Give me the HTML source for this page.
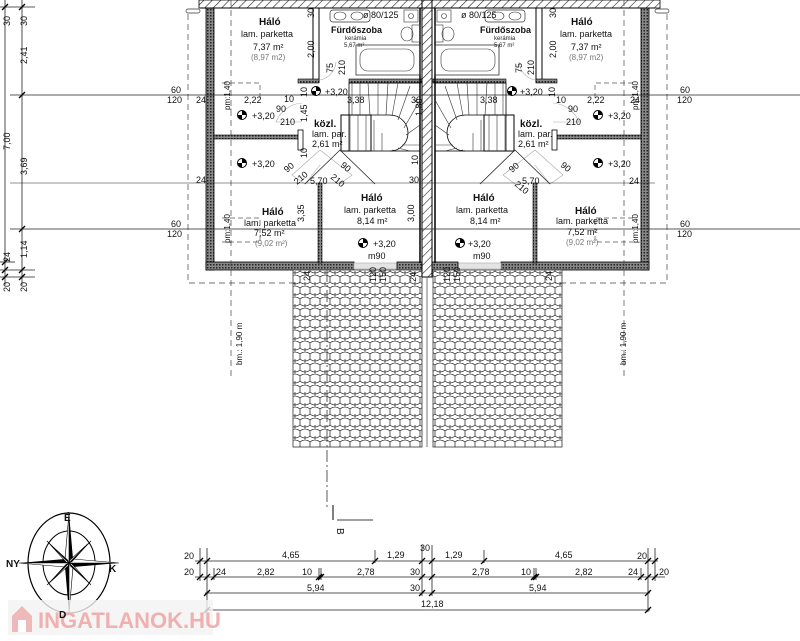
<!DOCTYPE html>
<html><head><meta charset="utf-8"><style>
html,body{margin:0;padding:0;background:#fff;}
svg{display:block;font-family:"Liberation Sans",sans-serif;}
.t{font-size:9px;fill:#111}
.b{font-size:10px;font-weight:bold;fill:#111}
.g{font-size:8px;fill:#777}
.s{font-size:6px;fill:#222}
</style></head><body>
<svg width="800" height="641" viewBox="0 0 800 641" xmlns="http://www.w3.org/2000/svg">
<defs>
<pattern id="hatch" width="6" height="6" patternUnits="userSpaceOnUse" patternTransform="rotate(45)">
<rect width="6" height="6" fill="#fff"/><line x1="0" y1="0" x2="0" y2="6" stroke="#222" stroke-width="1.2"/></pattern>
<pattern id="wall" width="3" height="3" patternUnits="userSpaceOnUse">
<rect width="3" height="3" fill="#888"/><rect width="1.5" height="1.5" fill="#222"/></pattern>
<pattern id="pave" width="10" height="11" patternUnits="userSpaceOnUse">
<rect width="10" height="11" fill="#fff"/>
<path d="M0,2 Q5,-2 10,2 M0,2 V7 M10,2 V7 M0,7 Q5,11 10,7 M5,7 V12" fill="none" stroke="#333" stroke-width="0.8"/>
</pattern>
<g id="lvl"><circle r="4.5" fill="#fff" stroke="#000" stroke-width="1"/><path d="M0,0 L0,-4.5 A4.5,4.5 0 0 1 4.5,0 Z M0,0 L0,4.5 A4.5,4.5 0 0 1 -4.5,0 Z" fill="#000"/></g>
<g id="unit">
<!-- outer walls -->
<rect x="206" y="8" width="8" height="262" fill="url(#wall)" stroke="#000" stroke-width="0.8"/>
<rect x="206" y="262" width="148" height="8" fill="url(#wall)" stroke="#000" stroke-width="0.8"/>
<rect x="354" y="263" width="43" height="6" fill="#e4e4e4" stroke="#aaa" stroke-width="0.6"/>
<rect x="397" y="262" width="26" height="8" fill="url(#wall)" stroke="#000" stroke-width="0.8"/>
<!-- interior walls -->
<rect x="313" y="8" width="6" height="74" fill="#fff" stroke="#000" stroke-width="1"/>
<rect x="298" y="79" width="21" height="4" fill="url(#wall)" stroke="#000" stroke-width="0.6"/>
<rect x="349" y="79" width="73" height="4" fill="url(#wall)" stroke="#000" stroke-width="0.6"/>
<rect x="214" y="135" width="88" height="4" fill="url(#wall)" stroke="#000" stroke-width="0.6"/>
<rect x="298" y="130" width="5" height="20" fill="#fff" stroke="#000" stroke-width="0.8"/>
<rect x="318" y="183" width="4" height="80" fill="url(#wall)" stroke="#000" stroke-width="0.6"/>
<line x1="420" y1="8" x2="420" y2="263" stroke="#000" stroke-width="1.5"/>
<!-- stair -->
<rect x="349" y="83" width="71" height="68" fill="none" stroke="#000" stroke-width="0.8"/>
<rect x="341" y="115" width="30" height="36" fill="none" stroke="#000" stroke-width="1"/>
<path d="M371,115 H390 A18,18 0 0 1 390,151" fill="none" stroke="#000" stroke-width="0.8"/>
<g stroke="#333" stroke-width="0.6">
<line x1="352" y1="83" x2="352" y2="115"/><line x1="360" y1="83" x2="360" y2="115"/><line x1="368" y1="83" x2="370" y2="115"/><line x1="378" y1="83" x2="378" y2="115"/><line x1="388" y1="83" x2="386" y2="115"/><line x1="398" y1="83" x2="392" y2="116"/><line x1="410" y1="86" x2="398" y2="120"/><line x1="420" y1="100" x2="404" y2="128"/><line x1="420" y1="125" x2="406" y2="135"/><line x1="420" y1="145" x2="402" y2="145"/><line x1="410" y1="151" x2="398" y2="148"/><line x1="398" y1="151" x2="392" y2="150"/>
<line x1="350" y1="115" x2="350" y2="151"/><line x1="358" y1="115" x2="358" y2="151"/><line x1="366" y1="115" x2="366" y2="151"/><line x1="374" y1="120" x2="374" y2="151"/><line x1="382" y1="133" x2="382" y2="151"/>
</g>
<!-- bath -->
<rect x="330" y="10" width="40" height="12" rx="3" fill="none" stroke="#333" stroke-width="0.7"/>
<ellipse cx="340" cy="16" rx="6" ry="4" fill="none" stroke="#333" stroke-width="0.6"/>
<ellipse cx="357" cy="16" rx="6" ry="4" fill="none" stroke="#333" stroke-width="0.6"/>
<rect x="356" y="45" width="64" height="30" fill="none" stroke="#333" stroke-width="0.8"/>
<rect x="360" y="49" width="54" height="22" rx="8" fill="none" stroke="#333" stroke-width="0.6"/>
<rect x="412" y="25" width="8" height="17" fill="none" stroke="#333" stroke-width="0.6"/>
<ellipse cx="407" cy="34" rx="6" ry="7" fill="none" stroke="#333" stroke-width="0.6"/>
<rect x="404" y="10" width="14" height="12" fill="none" stroke="#333" stroke-width="0.6"/>
<circle cx="411" cy="16" r="2.5" fill="none" stroke="#333" stroke-width="0.6"/>
<!-- door swings -->
<g fill="none" stroke="#aaa" stroke-width="0.6">
<path d="M302,103 A30,30 0 0 0 276,122 L302,122"/><path d="M336,62 A20,20 0 0 1 320,80"/>
<path d="M320,150 L292,175 L305,184 L320,165"/><path d="M320,150 L352,175 L340,184"/>
</g>
<path d="M305,184 L340,150 L375,184" fill="none" stroke="#222" stroke-width="0.8"/>
<!-- pm dashed boxes -->
<g fill="none" stroke="#555" stroke-width="0.7" stroke-dasharray="5,3">
<path d="M222,83 H260 V100"/><path d="M222,218 H260 V242 H222"/>
</g>
<!-- paving -->
<rect x="293" y="270" width="129" height="177" fill="url(#pave)" stroke="#333" stroke-width="0.8"/>
<!-- pipe -->
<rect x="186" y="9" width="14" height="4" rx="2" fill="#fff" stroke="#333" stroke-width="0.7"/>
<!-- dashed outline -->
<g fill="none" stroke="#444" stroke-width="0.7" stroke-dasharray="6,4">
<path d="M188,14 V283 H300"/>
<line x1="231" y1="0" x2="231" y2="380"/>
</g>
</g>
</defs>

<!-- top hatched strip -->
<rect x="199" y="0" width="461" height="8" fill="url(#hatch)" stroke="#000" stroke-width="0.8"/>
<use href="#unit"/>
<use href="#unit" transform="translate(855,0) scale(-1,1)"/>
<!-- party wall -->
<rect x="422" y="0" width="10" height="277" fill="url(#hatch)" stroke="#000" stroke-width="1"/>
<line x1="427" y1="277" x2="427" y2="447" stroke="#555" stroke-width="0.8"/>
<line x1="200" y1="8" x2="655" y2="8" stroke="#000" stroke-width="1"/>

<!-- long horizontal dimension lines -->
<g stroke="#222" stroke-width="0.8">
<line x1="10" y1="95" x2="800" y2="95"/><line x1="10" y1="229" x2="800" y2="229"/>
<line x1="10" y1="183" x2="655" y2="183" stroke-width="0.6"/>
<line x1="5" y1="0" x2="5" y2="285"/><line x1="22" y1="0" x2="22" y2="285"/>
<line x1="0" y1="7" x2="35" y2="7"/><line x1="0" y1="270" x2="35" y2="270"/><line x1="0" y1="277" x2="35" y2="277"/><line x1="0" y1="262" x2="15" y2="262"/>
</g>
<g stroke="#000" stroke-width="1.3">
<line x1="2" y1="10" x2="8" y2="4"/><line x1="19" y1="10" x2="25" y2="4"/><line x1="19" y1="98" x2="25" y2="92"/><line x1="19" y1="232" x2="25" y2="226"/>
<line x1="2" y1="265" x2="8" y2="259"/><line x1="2" y1="273" x2="8" y2="267"/><line x1="19" y1="273" x2="25" y2="267"/><line x1="2" y1="280" x2="8" y2="274"/><line x1="19" y1="280" x2="25" y2="274"/>
</g>
<g class="t">
<text transform="translate(10,26) rotate(-90)">30</text><text transform="translate(27,26) rotate(-90)">30</text>
<text transform="translate(27,64) rotate(-90)">2,41</text><text transform="translate(10,150) rotate(-90)">7,00</text>
<text transform="translate(27,175) rotate(-90)">3,69</text><text transform="translate(27,258) rotate(-90)">1,14</text>
<text transform="translate(10,262) rotate(-90)">24</text><text transform="translate(10,292) rotate(-90)">20</text><text transform="translate(27,292) rotate(-90)">20</text>
<text x="171" y="93">60</text><text x="167" y="103">120</text><text x="171" y="227">60</text><text x="167" y="237">120</text>
<text x="680" y="93">60</text><text x="677" y="103">120</text><text x="680" y="227">60</text><text x="677" y="237">120</text>
</g>

<!-- level markers -->
<use href="#lvl" x="242" y="115"/><use href="#lvl" x="242" y="163"/><use href="#lvl" x="316" y="91"/><use href="#lvl" x="363" y="243"/>
<use href="#lvl" x="598" y="115"/><use href="#lvl" x="598" y="163"/><use href="#lvl" x="512" y="91"/><use href="#lvl" x="460" y="243"/>

<!-- left unit texts -->
<text class="b" x="259" y="25">Háló</text>
<text class="t" x="241" y="37">lam. parketta</text>
<text class="t" x="253" y="50">7,37 m²</text>
<text class="g" x="251" y="60">(8,97 m2)</text>
<text class="b" x="331" y="33" style="font-size:9px">Fürdőszoba</text>
<text class="s" x="345" y="40">kerámia</text>
<text class="s" x="344" y="47">5,67 m²</text>
<text class="t" x="363" y="18">ø 80/125</text>
<text class="b" x="314" y="127">közl.</text>
<text class="t" x="312" y="137">lam. par.</text>
<text class="t" x="312" y="147">2,61 m²</text>
<text class="b" x="262" y="215">Háló</text>
<text class="t" x="244" y="226">lam. parketta</text>
<text class="t" x="254" y="236">7,52 m²</text>
<text class="g" x="255" y="246">(9,02 m²)</text>
<text class="b" x="361" y="201">Háló</text>
<text class="t" x="344" y="213">lam. parketta</text>
<text class="t" x="357" y="224">8,14 m²</text>
<text class="t" x="373" y="247">+3,20</text>
<text class="t" x="368" y="259">m90</text>
<g class="t">
<text x="252" y="119">+3,20</text><text x="252" y="167">+3,20</text><text x="325" y="95">+3,20</text>
<text x="196" y="103">24</text><text x="244" y="103">2,22</text><text x="284" y="102">10</text><text x="347" y="103">3,38</text><text x="411" y="103">30</text>
<text x="276" y="112">90</text><text x="280" y="125">210</text>
<text x="196" y="183">24</text><text x="409" y="183">30</text>
<text transform="translate(314,18) rotate(-90)">30</text><text transform="translate(314,58) rotate(-90)">2,00</text>
<text transform="translate(333,73) rotate(-90)">75</text><text transform="translate(345,75) rotate(-90)">210</text>
<text transform="translate(307,97) rotate(-90)">10</text><text transform="translate(307,122) rotate(-90)">1,45</text><text transform="translate(307,158) rotate(-90)">10</text>
<text transform="translate(422,116) rotate(-90)">1,80</text><text transform="translate(418,165) rotate(-90)">10</text>
<text transform="translate(304,222) rotate(-90)">3,35</text><text transform="translate(414,222) rotate(-90)">3,00</text>
<text transform="translate(287,173) rotate(-40)">90</text><text transform="translate(340,166) rotate(40)">90</text>
<text transform="translate(297,185) rotate(-40)">210</text><text transform="translate(330,178) rotate(40)">210</text>
<text x="310" y="184">5,70</text>
<text transform="translate(230,243) rotate(-90)" style="font-size:8px">pm:1,40</text>
<text transform="translate(230,110) rotate(-90)" style="font-size:8px">pm:1,40</text>
<text transform="translate(310,281) rotate(-90)">24</text><text transform="translate(376,282) rotate(-90)">120</text><text transform="translate(386,282) rotate(-90)">150</text><text transform="translate(416,282) rotate(-90)">24</text>
<text transform="translate(242,365) rotate(-90)" style="font-size:8px">bm.: 1,90 m</text>
</g>

<!-- right unit texts -->
<text class="b" x="571" y="25">Háló</text>
<text class="t" x="560" y="37">lam. parketta</text>
<text class="t" x="571" y="50">7,37 m²</text>
<text class="g" x="569" y="60">(8,97 m2)</text>
<text class="b" x="480" y="33" style="font-size:9px">Fürdőszoba</text>
<text class="s" x="494" y="40">kerámia</text>
<text class="s" x="494" y="47">5,67 m²</text>
<text class="t" x="461" y="18">ø 80/125</text>
<text class="b" x="520" y="127">közl.</text>
<text class="t" x="518" y="137">lam. par.</text>
<text class="t" x="518" y="147">2,61 m²</text>
<text class="b" x="473" y="201">Háló</text>
<text class="t" x="456" y="213">lam. parketta</text>
<text class="t" x="470" y="224">8,14 m²</text>
<text class="t" x="468" y="247">+3,20</text>
<text class="t" x="473" y="259">m90</text>
<text class="b" x="575" y="214">Háló</text>
<text class="t" x="556" y="224">lam. parketta</text>
<text class="t" x="567" y="235">7,52 m²</text>
<text class="g" x="566" y="245">(9,02 m²)</text>
<g class="t">
<text x="608" y="119">+3,20</text><text x="608" y="167">+3,20</text><text x="520" y="95">+3,20</text>
<text x="480" y="103">3,38</text><text x="556" y="103">10</text><text x="587" y="103">2,22</text><text x="630" y="103">24</text>
<text x="568" y="112">90</text><text x="566" y="125">210</text>
<text x="629" y="184">24</text>
<text transform="translate(556,18) rotate(-90)">30</text><text transform="translate(556,58) rotate(-90)">2,00</text>
<text transform="translate(522,73) rotate(-90)">75</text><text transform="translate(534,75) rotate(-90)">210</text>
<text transform="translate(555,97) rotate(-90)">10</text>
<text transform="translate(512,173) rotate(-40)">90</text><text transform="translate(560,166) rotate(40)">90</text>
<text transform="translate(514,185) rotate(40)">210</text><text x="522" y="184">5,70</text>
<text transform="translate(638,243) rotate(-90)" style="font-size:8px">pm:1,40</text>
<text transform="translate(638,110) rotate(-90)" style="font-size:8px">pm:1,40</text>
<text transform="translate(450,282) rotate(-90)">120</text><text transform="translate(460,282) rotate(-90)">150</text><text transform="translate(552,281) rotate(-90)">24</text>
<text transform="translate(626,365) rotate(-90)" style="font-size:8px">bm.: 1,90 m</text>
</g>

<!-- section mark -->
<line x1="327" y1="270" x2="327" y2="510" stroke="#333" stroke-width="0.8" stroke-dasharray="12,3,2,3"/>
<line x1="333" y1="505" x2="333" y2="520" stroke="#000" stroke-width="1"/>
<line x1="337" y1="520" x2="373" y2="520" stroke="#000" stroke-width="0.8"/>
<text class="t" transform="translate(337,528) rotate(90)" style="font-size:10px">B</text>

<!-- bottom dimension lines -->
<g stroke="#222" stroke-width="0.8">
<line x1="195" y1="561" x2="658" y2="561"/><line x1="195" y1="577" x2="665" y2="577"/><line x1="205" y1="593" x2="650" y2="593"/><line x1="205" y1="610" x2="650" y2="610"/>
<line x1="200" y1="548" x2="200" y2="581"/><line x1="207" y1="548" x2="207" y2="612"/><line x1="422" y1="545" x2="422" y2="596"/><line x1="432" y1="545" x2="432" y2="596"/><line x1="648" y1="548" x2="648" y2="612"/><line x1="655" y1="548" x2="655" y2="581"/>
<line x1="375" y1="550" x2="375" y2="563"/><line x1="484" y1="550" x2="484" y2="563"/>
<line x1="214" y1="568" x2="214" y2="580"/><line x1="319" y1="568" x2="319" y2="580"/><line x1="321" y1="568" x2="321" y2="580"/><line x1="534" y1="568" x2="534" y2="580"/><line x1="536" y1="568" x2="536" y2="580"/><line x1="641" y1="568" x2="641" y2="580"/>
</g>
<g stroke="#000" stroke-width="1.3">
<path d="M197,564 l6,-6 M204,564 l6,-6 M372,564 l6,-6 M419,564 l6,-6 M429,564 l6,-6 M481,564 l6,-6 M645,564 l6,-6 M652,564 l6,-6"/>
<path d="M197,580 l6,-6 M204,580 l6,-6 M211,580 l6,-6 M316,580 l6,-6 M318,580 l6,-6 M419,580 l6,-6 M429,580 l6,-6 M531,580 l6,-6 M533,580 l6,-6 M638,580 l6,-6 M645,580 l6,-6 M652,580 l6,-6"/>
<path d="M204,596 l6,-6 M419,596 l6,-6 M429,596 l6,-6 M645,596 l6,-6 M204,613 l6,-6 M645,613 l6,-6"/>
</g>
<g class="t">
<text x="184" y="559">20</text><text x="282" y="558">4,65</text><text x="387" y="558">1,29</text><text x="420" y="551">30</text><text x="445" y="558">1,29</text><text x="555" y="558">4,65</text><text x="637" y="559">20</text>
<text x="184" y="575">20</text><text x="216" y="575">24</text><text x="257" y="575">2,82</text><text x="302" y="575">10</text><text x="357" y="575">2,78</text><text x="410" y="575">30</text><text x="472" y="575">2,78</text><text x="521" y="575">10</text><text x="575" y="575">2,82</text><text x="628" y="575">24</text><text x="659" y="575">20</text>
<text x="307" y="591">5,94</text><text x="410" y="591">30</text><text x="529" y="591">5,94</text>
<text x="421" y="607">12,18</text>
</g>

<!-- compass -->
<g transform="translate(69,563)">
<ellipse rx="41" ry="50" fill="none" stroke="#000" stroke-width="1.2"/>
<ellipse rx="26" ry="32" fill="none" stroke="#000" stroke-width="1"/>
<path d="M0,-50 L4,-4 L0,0 Z M50,0 L4,4 L0,0 Z M0,50 L-4,4 L0,0 Z M-50,0 L-4,-4 L0,0 Z" fill="#000"/>
<path d="M0,-50 L-4,-4 L0,0 Z M50,0 L4,-4 L0,0 Z M0,50 L4,4 L0,0 Z M-50,0 L-4,4 L0,0 Z" fill="#fff" stroke="#000" stroke-width="0.6"/>
<path d="M22,-22 L3,-1 L0,0 Z M22,22 L1,3 L0,0 Z M-22,22 L-3,1 L0,0 Z M-22,-22 L-1,-3 L0,0 Z" fill="#000"/>
<path d="M22,-22 L1,-3 L0,0 Z M22,22 L3,1 L0,0 Z M-22,22 L-1,3 L0,0 Z M-22,-22 L-3,-1 L0,0 Z" fill="#fff" stroke="#000" stroke-width="0.6"/>
</g>
<text class="b" x="64" y="521">É</text><text class="b" x="6" y="567">NY</text><text class="b" x="109" y="572">K</text>

<!-- watermark -->
<rect x="8" y="600" width="205" height="35" fill="#f2f2f2" opacity="0.8"/>
<path d="M12,616 L22,606 L32,616 V632 H12 Z" fill="#f0b9b9"/>
<rect x="18" y="620" width="8" height="12" fill="#fff"/>
<text x="38" y="628" style="font-size:22px;font-weight:bold;fill:#f0b0b0">INGATLANOK.HU</text>
<text class="b" x="59" y="618">D</text>
</svg>
</body></html>
